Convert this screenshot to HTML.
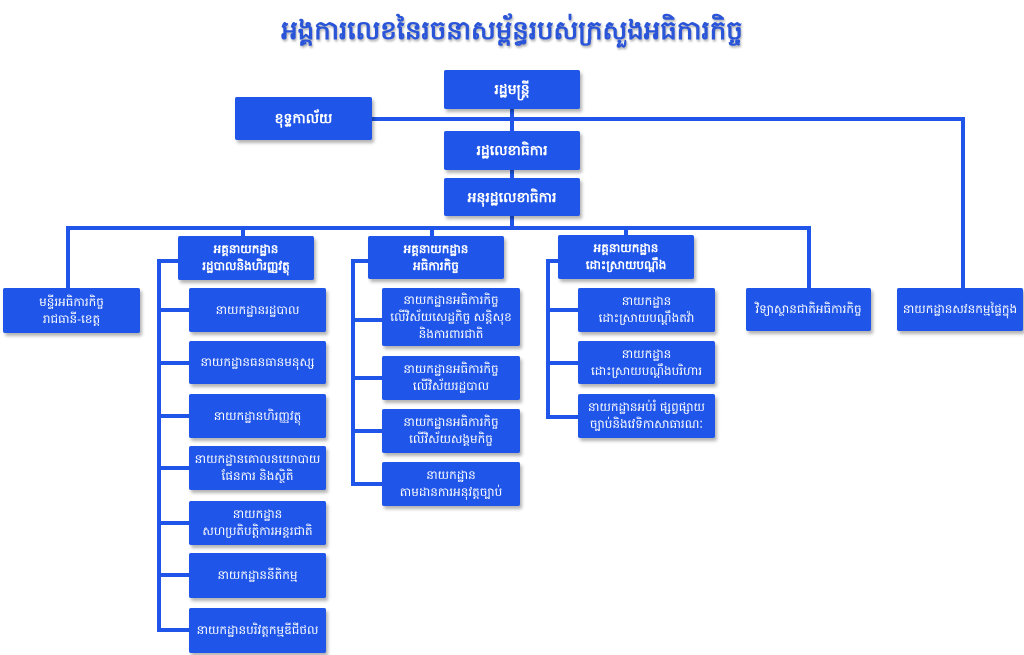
<!DOCTYPE html>
<html><head><meta charset="utf-8"><style>
body{margin:0;width:1024px;height:655px;background:#fff;position:relative;overflow:hidden;font-family:"Liberation Sans","Noto Sans CJK SC",sans-serif}
.b{position:absolute;background:#1f55e8;color:#fff;display:flex;align-items:center;justify-content:center;text-align:center;font-size:12px;line-height:17px;box-shadow:2px 3px 3px rgba(0,0,0,.3);border-radius:2px;box-sizing:border-box}
.h{font-weight:bold;font-size:14px}
.l{position:absolute;background:#1f55e8}
.t{position:absolute;left:0;width:1024px;top:14px;text-align:center;color:#2a55d8;font-weight:bold;font-size:26px;text-shadow:1px 2px 2px rgba(0,0,0,.3)}
</style></head><body>
<div class="t">អង្គការលេខនៃរចនាសម្ព័ន្ធរបស់ក្រសួងអធិការកិច្ច</div>
<!-- lines -->
<div class="l" style="left:510px;top:100px;width:4px;height:130px"></div>
<div class="l" style="left:372px;top:117px;width:593px;height:4px"></div>
<div class="l" style="left:961px;top:117px;width:4px;height:172px"></div>
<div class="l" style="left:66px;top:226px;width:745px;height:4px"></div>
<div class="l" style="left:66px;top:226px;width:4px;height:63px"></div>
<div class="l" style="left:241px;top:226px;width:4px;height:12px"></div>
<div class="l" style="left:430px;top:226px;width:4px;height:12px"></div>
<div class="l" style="left:624px;top:226px;width:4px;height:12px"></div>
<div class="l" style="left:807px;top:226px;width:4px;height:63px"></div>
<!-- spine 1 -->
<div class="l" style="left:157px;top:259px;width:4px;height:372px"></div>
<div class="l" style="left:157px;top:259px;width:22px;height:4px"></div>
<div class="l" style="left:157px;top:308px;width:32px;height:4px"></div>
<div class="l" style="left:157px;top:361px;width:32px;height:4px"></div>
<div class="l" style="left:157px;top:414px;width:32px;height:4px"></div>
<div class="l" style="left:157px;top:466px;width:32px;height:4px"></div>
<div class="l" style="left:157px;top:521px;width:32px;height:4px"></div>
<div class="l" style="left:157px;top:573px;width:32px;height:4px"></div>
<div class="l" style="left:157px;top:628px;width:32px;height:4px"></div>
<!-- spine 2 -->
<div class="l" style="left:351px;top:259px;width:4px;height:227px"></div>
<div class="l" style="left:351px;top:259px;width:18px;height:4px"></div>
<div class="l" style="left:351px;top:318px;width:31px;height:4px"></div>
<div class="l" style="left:351px;top:376px;width:31px;height:4px"></div>
<div class="l" style="left:351px;top:429px;width:31px;height:4px"></div>
<div class="l" style="left:351px;top:482px;width:31px;height:4px"></div>
<!-- spine 3 -->
<div class="l" style="left:546px;top:259px;width:4px;height:160px"></div>
<div class="l" style="left:546px;top:259px;width:13px;height:4px"></div>
<div class="l" style="left:546px;top:308px;width:32px;height:4px"></div>
<div class="l" style="left:546px;top:361px;width:32px;height:4px"></div>
<div class="l" style="left:546px;top:415px;width:32px;height:4px"></div>
<!-- boxes -->
<div class="b h" style="left:444px;top:70px;width:136px;height:39px">រដ្ឋមន្ត្រី</div>
<div class="b h" style="left:235px;top:97px;width:137px;height:43px">ខុទ្ទកាល័យ</div>
<div class="b h" style="left:444px;top:131px;width:136px;height:39px">រដ្ឋលេខាធិការ</div>
<div class="b h" style="left:444px;top:178px;width:136px;height:38px">អនុរដ្ឋលេខាធិការ</div>
<div class="b" style="left:3px;top:288px;width:137px;height:45px">មន្ទីរអធិការកិច្ច<br>រាជធានី-ខេត្ត</div>
<div class="b h" style="left:178px;top:236px;width:136px;height:44px;font-size:12px">អគ្គនាយកដ្ឋាន<br>រដ្ឋបាលនិងហិរញ្ញវត្ថុ</div>
<div class="b" style="left:189px;top:288px;width:137px;height:44px">នាយកដ្ឋានរដ្ឋបាល</div>
<div class="b" style="left:189px;top:341px;width:137px;height:43px">នាយកដ្ឋានធនធានមនុស្ស</div>
<div class="b" style="left:189px;top:394px;width:137px;height:44px">នាយកដ្ឋានហិរញ្ញវត្ថុ</div>
<div class="b" style="left:189px;top:446px;width:137px;height:44px">នាយកដ្ឋានគោលនយោបាយ<br>ផែនការ និងស្ថិតិ</div>
<div class="b" style="left:189px;top:501px;width:137px;height:44px">នាយកដ្ឋាន<br>សហប្រតិបត្តិការអន្តរជាតិ</div>
<div class="b" style="left:189px;top:553px;width:137px;height:45px">នាយកដ្ឋាននីតិកម្ម</div>
<div class="b" style="left:189px;top:608px;width:137px;height:45px">នាយកដ្ឋានបរិវត្តកម្មឌីជីថល</div>
<div class="b h" style="left:368px;top:236px;width:136px;height:43px;font-size:12px">អគ្គនាយកដ្ឋាន<br>អធិការកិច្ច</div>
<div class="b" style="left:382px;top:288px;width:138px;height:58px">នាយកដ្ឋានអធិការកិច្ច<br>លើវិស័យសេដ្ឋកិច្ច សន្តិសុខ<br>និងការពារជាតិ</div>
<div class="b" style="left:382px;top:356px;width:138px;height:44px">នាយកដ្ឋានអធិការកិច្ច<br>លើវិស័យរដ្ឋបាល</div>
<div class="b" style="left:382px;top:409px;width:138px;height:44px">នាយកដ្ឋានអធិការកិច្ច<br>លើវិស័យសង្គមកិច្ច</div>
<div class="b" style="left:382px;top:462px;width:138px;height:44px">នាយកដ្ឋាន<br>តាមដានការអនុវត្តច្បាប់</div>
<div class="b h" style="left:558px;top:235px;width:136px;height:44px;font-size:12px">អគ្គនាយកដ្ឋាន<br>ដោះស្រាយបណ្តឹង</div>
<div class="b" style="left:578px;top:288px;width:137px;height:44px">នាយកដ្ឋាន<br>ដោះស្រាយបណ្តឹងតវ៉ា</div>
<div class="b" style="left:578px;top:341px;width:137px;height:43px">នាយកដ្ឋាន<br>ដោះស្រាយបណ្តឹងបរិហារ</div>
<div class="b" style="left:578px;top:394px;width:137px;height:44px">នាយកដ្ឋានអប់រំ ផ្សព្វផ្សាយ<br>ច្បាប់និងវេទិកាសាធារណៈ</div>
<div class="b" style="left:746px;top:288px;width:125px;height:43px">វិទ្យាស្ថានជាតិអធិការកិច្ច</div>
<div class="b" style="left:897px;top:288px;width:126px;height:43px">នាយកដ្ឋានសវនកម្មផ្ទៃក្នុង</div>
</body></html>
